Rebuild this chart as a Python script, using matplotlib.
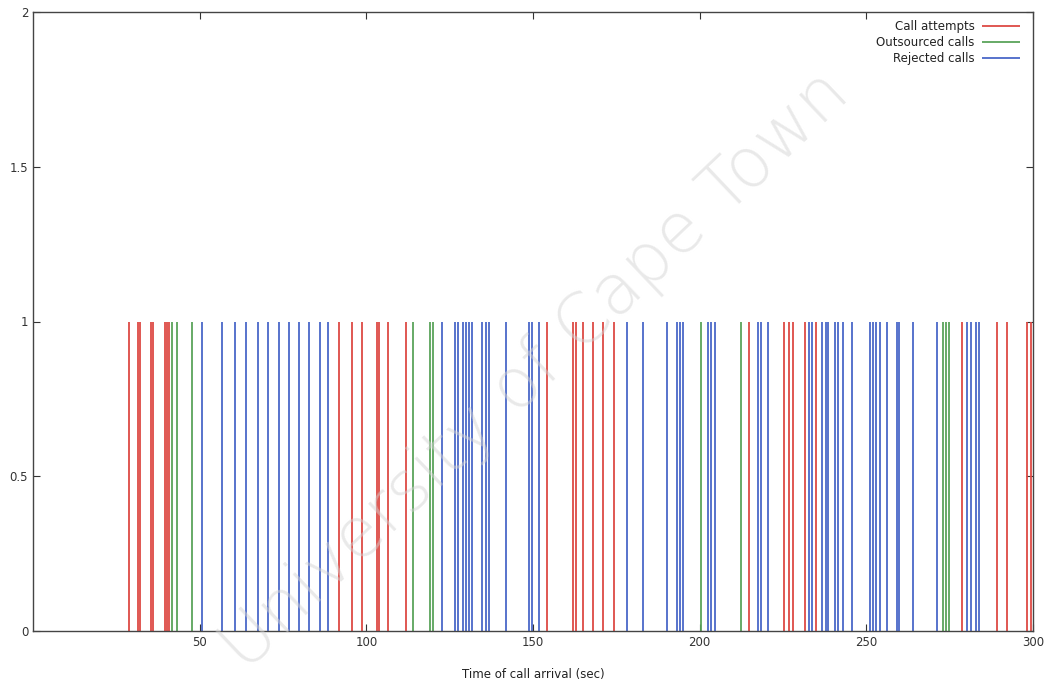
import matplotlib
matplotlib.use("Agg")
import matplotlib.pyplot as plt

# Arrival times (seconds) of each kind of call event
call_attempts = [28.8, 31.5, 32.1, 35.4, 36.0, 39.6, 40.2, 40.8,
                 91.8, 95.7, 98.7, 103.2, 103.8, 106.5, 111.9,
                 154.2, 162.0, 162.9, 165.0, 168.0, 171.0, 174.3,
                 214.8, 225.3, 226.8, 228.0, 231.6, 234.9,
                 278.7, 289.2, 292.2, 298.2, 299.4]
outsourced_calls = [41.7, 43.2, 47.7, 114.0, 119.1, 120.0, 200.4, 212.4,
                    273.0, 273.9, 274.8]
rejected_calls = [50.7, 56.7, 60.6, 63.9, 67.5, 70.5, 73.8, 76.8, 79.8, 82.8,
                  86.1, 88.5, 122.7, 126.6, 127.5, 129.0, 129.9, 130.8, 131.7,
                  134.7, 135.9, 136.8, 141.9, 148.8, 149.7, 151.8,
                  178.2, 183.0, 190.2, 193.2, 194.1, 195.0, 202.5, 203.4, 204.6,
                  217.5, 218.4, 220.5, 232.8, 233.7, 236.7, 237.9, 238.5, 240.6,
                  241.5, 243.0, 245.7, 251.1, 252.0, 252.9, 254.1, 256.2, 259.2,
                  259.8, 264.0, 271.2, 280.2, 281.4, 282.9, 283.8]

series_labels = ["Call attempts", "Outsourced calls", "Rejected calls"]
series_colors = ["#dd4a44", "#5aa45a", "#4a68c8"]
x_ticks = [50, 100, 150, 200, 250, 300]
y_ticks = [0, 0.5, 1, 1.5, 2]
y_tick_labels = ["0", "0.5", "1", "1.5", "2"]

plt.rcParams["font.family"] = ["DejaVu Sans"]
fig = plt.figure(figsize=(10.53, 6.8), dpi=100)
ax = fig.add_axes([33 / 1053, 1 - 631 / 680, 1000 / 1053, 619 / 680])

for times, label, color in zip([call_attempts, outsourced_calls, rejected_calls],
                               series_labels, series_colors):
    ax.vlines(times, 0, 1, colors=color, linewidth=1.3, label=label)

ax.set_xlim(0, 300)
ax.set_ylim(0, 2)
ax.set_xticks(x_ticks)
ax.set_xticklabels([str(v) for v in x_ticks])
ax.set_yticks(y_ticks)
ax.set_yticklabels(y_tick_labels)
ax.tick_params(direction="in", length=5, width=0.8, labelsize=8.5,
               colors="#333333", top=True, right=True)
for side in ax.spines.values():
    side.set_color("#444444")
    side.set_linewidth(1.0)

ax.set_xlabel("Time of call arrival (sec)", fontsize=8.5, color="#222222", labelpad=14)

leg = ax.legend(loc="upper right", frameon=False, markerfirst=False,
                fontsize=8.5, handlelength=3.2, handletextpad=0.6,
                labelspacing=0.25, borderaxespad=0.3,
                bbox_to_anchor=(0.995, 1.0))
for t in leg.get_texts():
    t.set_color("#222222")

# Diagonal watermark across the plot
fig.text(0.508, 0.455, "University of Cape Town", fontsize=50, rotation=43.5,
         ha="center", va="center", color="#d4d4d4", alpha=0.5,
         fontweight="light", zorder=10)

fig.savefig("out.png", dpi=100)
